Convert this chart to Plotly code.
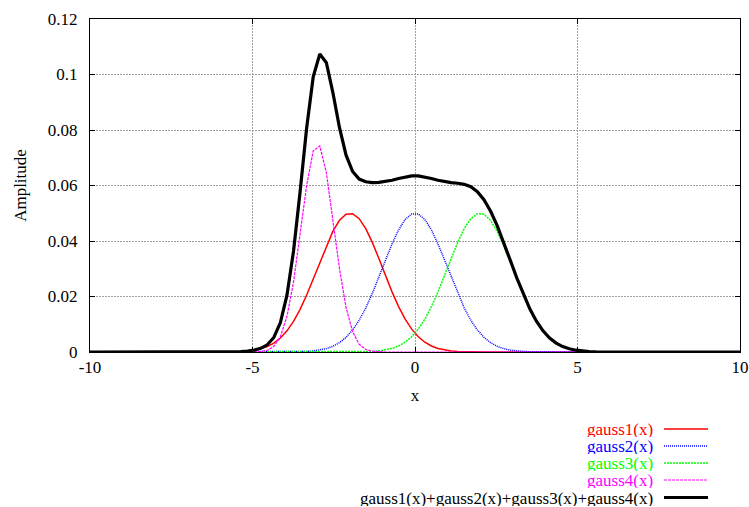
import numpy as np
import plotly.graph_objects as go

# Sample positions (100 samples across the x range)
x = np.linspace(-10, 10, 100)

# Sampled curve values (zeros where the curves are negligible)
gauss1 = [0.0] * 19 + [
    0.0000087, 0.0000197, 0.0000430, 0.0000899, 0.000181, 0.000349, 0.000646,
    0.001148, 0.001959, 0.003210, 0.005049, 0.007625, 0.011054, 0.015385,
    0.020556, 0.026366, 0.032467, 0.038381, 0.043557, 0.047455, 0.049634,
    0.049837, 0.048039, 0.044455, 0.039493, 0.033682, 0.027577, 0.021676,
    0.016356, 0.011848, 0.008240, 0.005501, 0.003526, 0.002169, 0.001281,
    0.000727, 0.000396, 0.000207, 0.000104, 0.0000500, 0.0000231, 0.0000103,
] + [0.0] * 39

gauss2 = [0.0] * 29 + [
    0.0000094, 0.0000213, 0.0000463, 0.0000965, 0.000193, 0.000371, 0.000685,
    0.001213, 0.002062, 0.003365, 0.005271, 0.007928, 0.011447, 0.015866,
    0.021113, 0.026971, 0.033076, 0.038940, 0.044015, 0.047757, 0.049746,
    0.049746, 0.047757, 0.044015, 0.038940, 0.033076, 0.026971, 0.021113,
    0.015866, 0.011447, 0.007928, 0.005271, 0.003365, 0.002062, 0.001213,
    0.000685, 0.000371, 0.000193, 0.0000965, 0.0000463, 0.0000213, 0.0000094,
] + [0.0] * 29

gauss3 = [0.0] * 39 + [
    0.0000103, 0.0000231, 0.0000500, 0.000104, 0.000207, 0.000396, 0.000727,
    0.001281, 0.002169, 0.003526, 0.005501, 0.008240, 0.011848, 0.016356,
    0.021676, 0.027577, 0.033682, 0.039493, 0.044455, 0.048039, 0.049837,
    0.049634, 0.047455, 0.043557, 0.038381, 0.032467, 0.026366, 0.020556,
    0.015385, 0.011054, 0.007625, 0.005049, 0.003210, 0.001959, 0.001148,
    0.000646, 0.000349, 0.000181, 0.0000899, 0.0000430, 0.0000197, 0.0000087,
] + [0.0] * 19

gauss4 = [0.0] * 24 + [
    0.0000071, 0.0000375, 0.000167, 0.000632, 0.002030, 0.005539, 0.012840,
    0.025281, 0.042279, 0.060055, 0.072458, 0.074254, 0.064633, 0.047785,
    0.030008, 0.016006, 0.007251, 0.002790, 0.000912, 0.000253, 0.0000597,
    0.0000119,
] + [0.0] * 54

total = [a + b + c + d for a, b, c, d in zip(gauss1, gauss2, gauss3, gauss4)]

names = ["gauss1(x)", "gauss2(x)", "gauss3(x)", "gauss4(x)",
         "gauss1(x)+gauss2(x)+gauss3(x)+gauss4(x)"]
series = [gauss1, gauss2, gauss3, gauss4, total]
colors = ["#ff0000", "#0000ff", "#00ff00", "#ff00ff", "#000000"]
dashes = ["solid", "1px,1px", "2px,1px", "3px,1px", "solid"]
widths = [1.5, 1.5, 1.5, 1.2, 3.2]

x_ticks = [-10, -5, 0, 5, 10]
y_ticks = [0, 0.02, 0.04, 0.06, 0.08, 0.1, 0.12]
y_tick_text = ["0", "0.02", "0.04", "0.06", "0.08", "0.1", "0.12"]

FONT = "Liberation Serif"
W, H = 749, 507
L, R, T, B = 90, 9, 19, 155
PW, PH = W - L - R, H - T - B

fig = go.Figure()
for name, ys, col, dash, w in zip(names, series, colors, dashes, widths):
    fig.add_trace(go.Scatter(
        x=x, y=ys, mode="lines", name=name, showlegend=False,
        line=dict(color=col, width=w, dash=dash),
    ))


def px_to_paper(px, py):
    return (px - L) / PW, (H - B - py) / PH


# Key placed under the plot: right-aligned label followed by a line sample
rows_py = [429, 446, 463, 480, 497.5]
for name, col, dash, w, py in zip(names, colors, dashes, widths, rows_py):
    tx, ty = px_to_paper(654, py)
    fig.add_annotation(
        x=tx, y=ty, xref="paper", yref="paper", text=name, showarrow=False,
        xanchor="right", yanchor="middle", height=16, valign="middle",
        borderpad=0,
        font=dict(family=FONT, size=17, color=col),
    )
    x0, y0 = px_to_paper(664, py)
    x1, _ = px_to_paper(708, py)
    fig.add_shape(
        type="line", xref="paper", yref="paper", x0=x0, x1=x1, y0=y0, y1=y0,
        line=dict(color=col, width=w, dash=dash),
    )

axis_common = dict(
    showline=True, linecolor="black", linewidth=1, mirror="allticks",
    ticks="inside", ticklen=5, tickcolor="black", automargin=False,
    showgrid=True, gridcolor="#a0a0a0", griddash="2px,1px", gridwidth=1,
    zeroline=False, tickfont=dict(family=FONT, size=17, color="black"),
)

fig.update_xaxes(
    range=[-10, 10], tickvals=x_ticks, ticktext=[str(v) for v in x_ticks],
    title=dict(text="x", font=dict(family=FONT, size=17, color="black"),
               standoff=12),
    **axis_common,
)
fig.update_yaxes(
    range=[0, 0.12], tickvals=y_ticks, ticktext=y_tick_text,
    ticklabelstandoff=8,
    title=dict(text="Amplitude", font=dict(family=FONT, size=17, color="black"),
               standoff=16),
    **axis_common,
)

fig.update_layout(
    width=W, height=H,
    margin=dict(l=L, r=R, t=T, b=B),
    paper_bgcolor="white", plot_bgcolor="white",
    font=dict(family=FONT, size=17, color="black"),
)

fig.write_html("out.html")
